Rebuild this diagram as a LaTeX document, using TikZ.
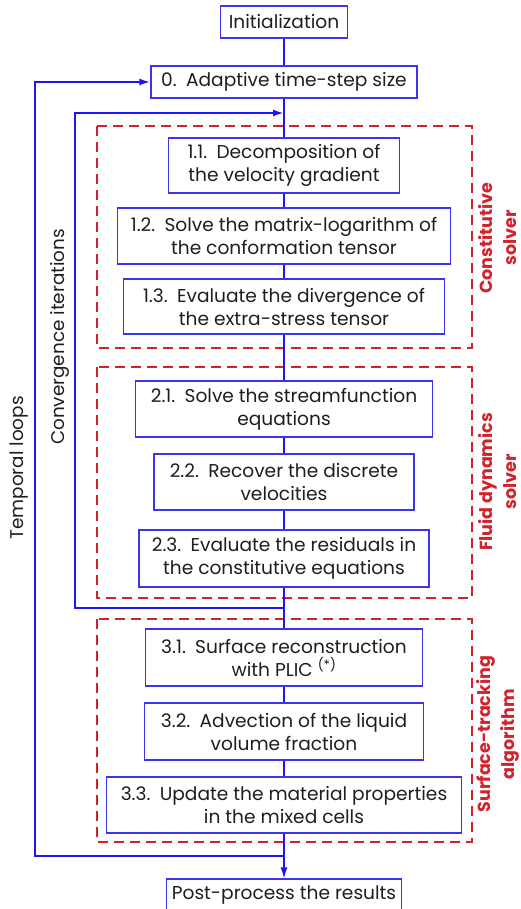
\documentclass[tikz,border=0pt]{standalone}
\usepackage{fontspec}
\setmainfont{Poppins}
\usetikzlibrary{arrows.meta}
\definecolor{lineblue}{RGB}{30,20,245}
\definecolor{boxblue}{RGB}{60,50,240}
\definecolor{dashred}{RGB}{210,35,45}
\definecolor{txt}{RGB}{30,30,30}
\begin{document}
\begin{tikzpicture}[x=1pt,y=-1pt,
  stepbox/.style={draw=boxblue,line width=1.1pt,align=center,inner sep=0pt,
    text=txt,font=\fontsize{18.6}{23}\selectfont,anchor=center},
  flow/.style={draw=lineblue,line width=1.4pt},
  loop/.style={draw=lineblue,line width=2pt},
  tip/.style={-{Latex[length=11pt,width=7pt]}},
  group/.style={draw=dashred,line width=2.5pt,dash pattern=on 10pt off 6pt},
  grouplabel/.style={text=dashred,font=\fontsize{17.5}{24}\selectfont\bfseries,align=center,rotate=90},
  looplabel/.style={text=txt,font=\fontsize{18.4}{22}\selectfont,rotate=90}]
\useasboundingbox (0,0) rectangle (521,909);
% dashed groups
\draw[group] (97,126) rectangle (472,348);
\draw[group] (97,367) rectangle (472,598);
\draw[group] (97,619) rectangle (472,842);
% boxes
\node[stepbox,minimum width=127pt,minimum height=32pt] (init) at (284,22) {Initialization};
\node[stepbox,minimum width=266pt,minimum height=32pt] (b0) at (284,82) {0.\hspace{0.5em}Adaptive time-step size};
\node[stepbox,minimum width=231pt,minimum height=55pt] (b11) at (284,165.5) {1.1.\hspace{0.5em}Decomposition of\\the velocity gradient};
\node[stepbox,minimum width=333pt,minimum height=56pt] (b12) at (284,236) {1.2.\hspace{0.5em}Solve the matrix-logarithm of\\the conformation tensor};
\node[stepbox,minimum width=321pt,minimum height=55pt] (b13) at (284,306.5) {1.3.\hspace{0.5em}Evaluate the divergence of\\the extra-stress tensor};
\node[stepbox,minimum width=297pt,minimum height=56pt] (b21) at (284,409) {2.1.\hspace{0.5em}Solve the streamfunction\\equations};
\node[stepbox,minimum width=260pt,minimum height=56pt] (b22) at (284,482) {2.2.\hspace{0.5em}Recover the discrete\\velocities};
\node[stepbox,minimum width=290pt,minimum height=57pt] (b23) at (284,558.5) {2.3.\hspace{0.5em}Evaluate the residuals in\\the constitutive equations};
\node[stepbox,minimum width=277pt,minimum height=57pt] (b31) at (284,657.5) {3.1.\hspace{0.5em}Surface reconstruction\\with PLIC \textsuperscript{(*)}};
\node[stepbox,minimum width=279pt,minimum height=57pt] (b32) at (284,731.5) {3.2.\hspace{0.5em}Advection of the liquid\\volume fraction};
\node[stepbox,minimum width=355pt,minimum height=56pt] (b33) at (284,805) {3.3.\hspace{0.5em}Update the material properties\\in the mixed cells};
\node[stepbox,minimum width=235pt,minimum height=32pt] (post) at (284,895) {Post-process the results};
% main flow
\draw[flow] (init) -- (b0);
\draw[flow] (b0) -- (b11);
\draw[flow] (b11) -- (b12);
\draw[flow] (b12) -- (b13);
\draw[flow] (b13) -- (b21);
\draw[flow] (b21) -- (b22);
\draw[flow] (b22) -- (b23);
\draw[flow] (b23) -- (b31);
\draw[flow] (b31) -- (b32);
\draw[flow] (b32) -- (b33);
\draw[flow,tip] (b33) -- (post);
% loops
\coordinate (tj) at (284,856);
\coordinate (tl1) at (35,856);
\coordinate (tl2) at (35,82);
\draw[loop,tip] (tj) -- (tl1) -- (tl2) -- (b0.west);
\coordinate (cj) at (284,608);
\coordinate (cl1) at (75,608);
\coordinate (cl2) at (75,113);
\coordinate (ce) at (284,113);
\draw[loop,tip] (cj) -- (cl1) -- (cl2) -- (ce);
% labels
\node[looplabel] (tlab) at (19,468) {Temporal loops};
\node[looplabel] (clab) at (60,337) {Convergence iterations};
\node[grouplabel] (g1) at (497.5,238) {Constitutive\\solver};
\node[grouplabel] (g2) at (497.5,482) {Fluid dynamics\\solver};
\node[grouplabel] (g3) at (497.5,734) {Surface-tracking\\algorithm};
\end{tikzpicture}
\end{document}
